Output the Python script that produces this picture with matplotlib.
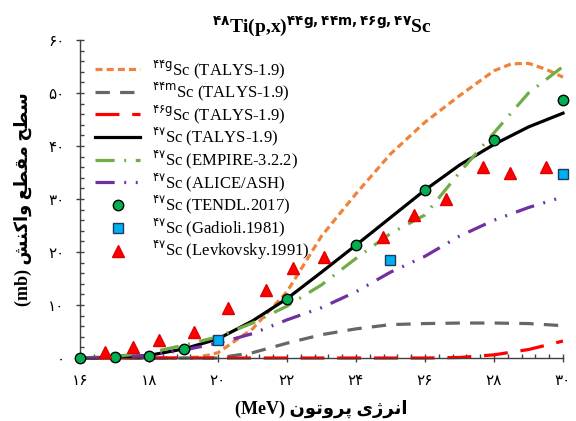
import matplotlib
matplotlib.use("Agg")
import matplotlib.pyplot as plt
from matplotlib.ticker import MultipleLocator, FixedLocator, FixedFormatter

plt.rcParams['font.family'] = ['Liberation Serif', 'DejaVu Sans']
plt.rcParams['mathtext.fontset'] = 'dejavusans'

# داده ها
energy = [16, 17, 18, 19, 20, 21, 22, 23, 24, 25, 26, 27, 28, 29, 30]
sc44g_e = [16, 17, 18, 19, 19.5, 20, 21, 22, 23, 24, 25, 26, 27, 28, 28.5, 29, 29.5, 30]
sc44g_talys = [0, 0, 0, 0, 0.2, 1.0, 5.5, 12.5, 23, 31, 38.5, 44.5, 49.5, 54.2, 55.5, 55.6, 54.5, 53]
sc44m_talys = [0, 0, 0, 0, 0, 1.0, 2.8, 4.4, 5.5, 6.3, 6.5, 6.6, 6.6, 6.5, 6.1]
sc46g_talys = [0, 0, 0, 0, 0, 0, 0, 0, 0, 0, 0, 0.1, 0.6, 1.6, 3.2]
sc47_talys = [0, 0.1, 0.5, 1.7, 3.6, 7.0, 11.2, 16.2, 21.3, 26.5, 31.7, 36.4, 40.3, 43.6, 46.2]
sc47_empire = [0, 0.3, 1.0, 2.4, 4.0, 6.6, 9.8, 13.8, 18.8, 23.5, 27, 35, 42.5, 50, 55]
sc47_alice = [0, 0.1, 0.5, 1.5, 2.8, 4.6, 7.2, 9.5, 12.5, 16.2, 19.2, 23, 26, 28.4, 30.4]

tendl_e = [16, 17, 18, 19, 22, 24, 26, 28, 30]
tendl = [0, 0.1, 0.4, 1.7, 11.1, 21.3, 31.7, 41.1, 48.7]
gadioli_e = [20, 25, 30]
gadioli = [3.4, 18.5, 34.7]
levk_e = [16.72, 17.53, 18.3, 19.3, 20.3, 21.4, 22.17, 23.07, 24.78, 25.68, 26.6, 27.67, 28.46, 29.5]
levk = [1.1, 2.1, 3.4, 4.9, 9.4, 12.8, 17, 19, 22.8, 27, 30, 36, 34.9, 36]

xticks = [16, 18, 20, 22, 24, 26, 28, 30]
xtick_labels = ['۱۶', '۱۸', '۲۰', '۲۲', '۲۴', '۲۶', '۲۸', '۳۰']
yticks = [0, 10, 20, 30, 40, 50, 60]
ytick_labels = ['۰', '۱۰', '۲۰', '۳۰', '۴۰', '۵۰', '۶۰']

# متن فارسی با حروف شکل داده شده (چپ به راست برای رسم)
xlabel = '(MeV) ' + '\uFEE5\uFEEE\uFE97\uFEED\uFEAE\uFB58' + ' ' + '\uFBFC\uFB8A\uFEAE\uFEE7\uFE8D'
ylabel = '(mb) ' + '\uFEB6\uFEE8\uFB90\uFE8D\uFEED' + ' ' + '\uFECA\uFEC4\uFED8\uFEE3' + ' ' + '\uFEA2\uFEC4\uFEB3'

fig = plt.figure(figsize=(5.76, 4.21), dpi=100)
ax = fig.add_axes([0.1389, 0.1496, 0.8385, 0.7553])

lw = 2.3
ax.plot(sc44g_e, sc44g_talys, color='#F0833A', lw=lw, ls=(0, (2.2, 1.3)), clip_on=False,
        label=r'$^{\mathrm{۴۴g}}$Sc (TALYS-1.9)')
ax.plot(energy, sc44m_talys, color='#666666', lw=lw, ls=(0, (4.5, 3.2)), clip_on=False,
        label=r'$^{\mathrm{۴۴m}}$Sc (TALYS-1.9)')
ax.plot(energy, sc46g_talys, color='#FF0000', lw=lw, ls=(0, (7.5, 4)), clip_on=False,
        label=r'$^{\mathrm{۴۶g}}$Sc (TALYS-1.9)')
ax.plot(energy, sc47_talys, color='black', lw=lw, clip_on=False,
        label=r'$^{\mathrm{۴۷}}$Sc (TALYS-1.9)')
ax.plot(energy, sc47_empire, color='#70AD47', lw=lw, ls=(0, (6, 3, 0.6, 3)), clip_on=False,
        label=r'$^{\mathrm{۴۷}}$Sc (EMPIRE-3.2.2)')
ax.plot(energy, sc47_alice, color='#7030A0', lw=lw, ls=(0, (6, 3, 0.6, 3, 0.6, 3)), clip_on=False,
        label=r'$^{\mathrm{۴۷}}$Sc (ALICE/ASH)')
ax.plot(tendl_e, tendl, 'o', color='#00B050', mec='black', mew=1.0, ms=7.5, clip_on=False, zorder=5,
        label=r'$^{\mathrm{۴۷}}$Sc (TENDL.2017)')
ax.plot(gadioli_e, gadioli, 's', color='#00B0F0', mec='#1F3864', mew=1.0, ms=7, clip_on=False, zorder=5,
        label=r'$^{\mathrm{۴۷}}$Sc (Gadioli.1981)')
ax.plot(levk_e, levk, '^', color='#FF0000', mec='#E00000', ms=8.5, clip_on=False, zorder=5,
        label=r'$^{\mathrm{۴۷}}$Sc (Levkovsky.1991)')

ax.set_xlim(16, 30)
ax.set_ylim(0, 60)
ax.xaxis.set_major_locator(FixedLocator(xticks))
ax.xaxis.set_major_formatter(FixedFormatter(xtick_labels))
ax.yaxis.set_major_locator(FixedLocator(yticks))
ax.yaxis.set_major_formatter(FixedFormatter(ytick_labels))
ax.xaxis.set_minor_locator(MultipleLocator(0.4))
ax.yaxis.set_minor_locator(MultipleLocator(2))

for s in ['top', 'right']:
    ax.spines[s].set_visible(False)
for s in ['left', 'bottom']:
    ax.spines[s].set_color('#404040')
    ax.spines[s].set_linewidth(1.0)
ax.tick_params(which='major', direction='inout', length=6, width=1.0, color='#404040',
               labelsize=11, pad=8)
ax.tick_params(which='minor', direction='in', length=3, width=1.0, color='#404040')
for lab in ax.get_xticklabels() + ax.get_yticklabels():
    lab.set_fontfamily(['DejaVu Sans'])

ax.set_xlabel(xlabel, fontsize=13, fontweight='bold', labelpad=8)
ax.set_ylabel(ylabel, fontsize=13, fontweight='bold', labelpad=12)
ax.set_title(r'$^{\mathbf{۴۸}}$Ti(p,x)$^{\mathbf{۴۴g,۴۴m,۴۶g,۴۷}}$Sc', fontsize=14,
             fontweight='bold', pad=6)

ax.legend(loc='upper left', bbox_to_anchor=(95 / 576, 1 - 58 / 421), bbox_transform=fig.transFigure,
          frameon=False, fontsize=12, handlelength=2.7, handletextpad=0.7,
          labelspacing=0.0, borderpad=0, borderaxespad=0)

fig.savefig('out.png', dpi=100)
